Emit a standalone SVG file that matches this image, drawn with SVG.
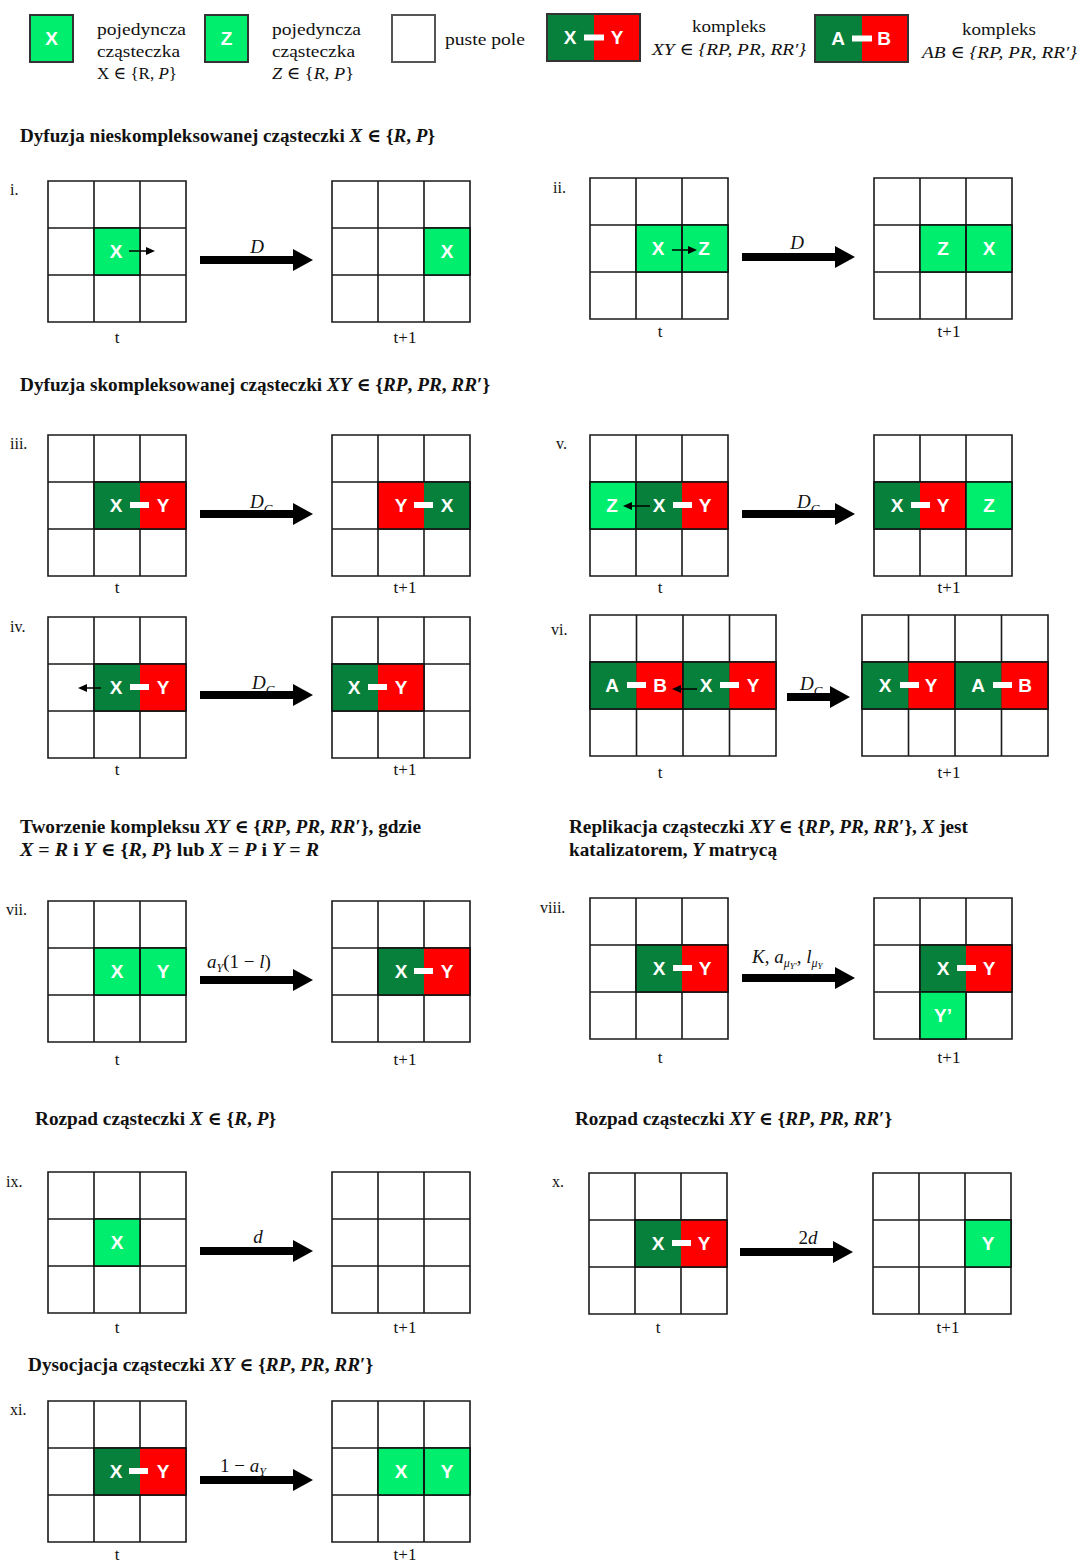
<svg xmlns="http://www.w3.org/2000/svg" xmlns:xlink="http://www.w3.org/1999/xlink" width="1081" height="1562" viewBox="0 0 1081 1562">
<style>
.t{font-family:"Liberation Serif","DejaVu Serif",serif;fill:#111}
.h{font-weight:bold;font-size:18.5px}
.lt{font-size:17.5px}
.i{font-style:italic}
.rn{font-size:16px}
.tl{font-size:17px;text-anchor:middle}
.al{font-size:19px}
.c{font-family:"Liberation Sans",Arial,sans-serif;font-weight:bold;font-size:19px;fill:#fff;text-anchor:middle}
.gl{fill:none;stroke:#1a1a1a;stroke-width:1.6}
.lg{fill:#00EE6E}
.dg{fill:#06803A}
.rd{fill:#FF0000}
.ol{fill:none;stroke:#111;stroke-width:1.6}
.bar{fill:#fff}
.big{stroke:#000;stroke-width:8;marker-end:url(#ah)}
.sm{stroke:#000;stroke-width:1.5;marker-end:url(#sah)}
.lb{stroke:#333;stroke-width:2}
</style>
<defs>
<marker id="ah" viewBox="0 0 20 22" refX="0" refY="11" markerWidth="20" markerHeight="22" markerUnits="userSpaceOnUse" orient="auto"><path d="M0,0L20,11L0,22Z" fill="#000"/></marker>
<marker id="sah" viewBox="0 0 9 8" refX="0" refY="4" markerWidth="9" markerHeight="8" markerUnits="userSpaceOnUse" orient="auto"><path d="M0,0L9,4L0,8Z" fill="#000"/></marker>
<path id="g3" class="gl" d="M0,0H138V141H0Z M46,0V141 M92,0V141 M0,47H138 M0,94H138"/>
<path id="g4" class="gl" d="M0,0H186V141H0Z M46.5,0V141 M93,0V141 M139.5,0V141 M0,47H186 M0,94H186"/>
</defs>
<rect width="1081" height="1562" fill="#fff"/>

<g id="legend">
 <g id="legend-x"><rect x="30" y="15" width="43" height="47" class="lg lb"/><text x="51.5" y="45" class="c">X</text>
  <text class="t lt" x="97" y="35" textLength="89" lengthAdjust="spacingAndGlyphs">pojedyncza</text>
  <text class="t lt" x="97" y="57" textLength="83" lengthAdjust="spacingAndGlyphs">cząsteczka</text>
  <text class="t lt" x="97" y="79" textLength="80" lengthAdjust="spacingAndGlyphs">X ∈ {R, <tspan class="i">P</tspan>}</text></g>
 <g id="legend-z"><rect x="205" y="15" width="43" height="47" class="lg lb"/><text x="226.5" y="45" class="c">Z</text>
  <text class="t lt" x="272" y="35" textLength="89" lengthAdjust="spacingAndGlyphs">pojedyncza</text>
  <text class="t lt" x="272" y="57" textLength="83" lengthAdjust="spacingAndGlyphs">cząsteczka</text>
  <text class="t lt" x="272" y="79" textLength="82" lengthAdjust="spacingAndGlyphs"><tspan class="i">Z</tspan> ∈ {<tspan class="i">R</tspan>, <tspan class="i">P</tspan>}</text></g>
 <g id="legend-empty"><rect x="392" y="15" width="43" height="47" fill="#fff" stroke="#555" stroke-width="2"/>
  <text class="t lt" x="445" y="45" textLength="80" lengthAdjust="spacingAndGlyphs">puste pole</text></g>
 <g id="legend-xy"><rect x="547" y="14" width="47" height="47" class="dg"/><rect x="594" y="14" width="46" height="47" class="rd"/><rect x="547" y="14" width="93" height="47" fill="none" class="lb"/>
  <rect x="584" y="34.5" width="20" height="6" class="bar"/><text x="570" y="44" class="c">X</text><text x="617" y="44" class="c">Y</text>
  <text class="t lt" x="729" y="32" text-anchor="middle" textLength="74" lengthAdjust="spacingAndGlyphs">kompleks</text>
  <text class="t lt i" x="652" y="55" textLength="154" lengthAdjust="spacingAndGlyphs">XY ∈ {RP, PR, RR′}</text></g>
 <g id="legend-ab"><rect x="815" y="15" width="47" height="47" class="dg"/><rect x="862" y="15" width="46" height="47" class="rd"/><rect x="815" y="15" width="93" height="47" fill="none" class="lb"/>
  <rect x="852" y="35.5" width="20" height="6" class="bar"/><text x="838" y="45" class="c">A</text><text x="884" y="45" class="c">B</text>
  <text class="t lt" x="999" y="35" text-anchor="middle" textLength="74" lengthAdjust="spacingAndGlyphs">kompleks</text>
  <text class="t lt i" x="922" y="58" textLength="155" lengthAdjust="spacingAndGlyphs">AB ∈ {RP, PR, RR′}</text></g>
</g>

<g id="headings">
 <text class="t h" x="20" y="142" textLength="415" lengthAdjust="spacingAndGlyphs">Dyfuzja nieskompleksowanej cząsteczki <tspan class="i">X</tspan> ∈ {<tspan class="i">R</tspan>, <tspan class="i">P</tspan>}</text>
 <text class="t h" x="20" y="391" textLength="470" lengthAdjust="spacingAndGlyphs">Dyfuzja skompleksowanej cząsteczki <tspan class="i">XY</tspan> ∈ {<tspan class="i">RP</tspan>, <tspan class="i">PR</tspan>, <tspan class="i">RR</tspan>′}</text>
 <text class="t h" x="20" y="833" textLength="401" lengthAdjust="spacingAndGlyphs">Tworzenie kompleksu <tspan class="i">XY</tspan> ∈ {<tspan class="i">RP</tspan>, <tspan class="i">PR</tspan>, <tspan class="i">RR</tspan>′}, gdzie</text>
 <text class="t h" x="20" y="856" textLength="299" lengthAdjust="spacingAndGlyphs"><tspan class="i">X</tspan> = <tspan class="i">R</tspan> i <tspan class="i">Y</tspan> ∈ {<tspan class="i">R</tspan>, <tspan class="i">P</tspan>} lub <tspan class="i">X</tspan> = <tspan class="i">P</tspan> i <tspan class="i">Y</tspan> = <tspan class="i">R</tspan></text>
 <text class="t h" x="569" y="833" textLength="399" lengthAdjust="spacingAndGlyphs">Replikacja cząsteczki <tspan class="i">XY</tspan> ∈ {<tspan class="i">RP</tspan>, <tspan class="i">PR</tspan>, <tspan class="i">RR</tspan>′}, <tspan class="i">X</tspan> jest</text>
 <text class="t h" x="569" y="856" textLength="208" lengthAdjust="spacingAndGlyphs">katalizatorem, <tspan class="i">Y</tspan> matrycą</text>
 <text class="t h" x="35" y="1125" textLength="241" lengthAdjust="spacingAndGlyphs">Rozpad cząsteczki <tspan class="i">X</tspan> ∈ {<tspan class="i">R</tspan>, <tspan class="i">P</tspan>}</text>
 <text class="t h" x="575" y="1125" textLength="317" lengthAdjust="spacingAndGlyphs">Rozpad cząsteczki <tspan class="i">XY</tspan> ∈ {<tspan class="i">RP</tspan>, <tspan class="i">PR</tspan>, <tspan class="i">RR</tspan>′}</text>
 <text class="t h" x="28" y="1371" textLength="345" lengthAdjust="spacingAndGlyphs">Dysocjacja cząsteczki <tspan class="i">XY</tspan> ∈ {<tspan class="i">RP</tspan>, <tspan class="i">PR</tspan>, <tspan class="i">RR</tspan>′}</text>
</g>

<g id="panel-i">
 <text class="t rn" x="10" y="195">i.</text>
 <use href="#g3" x="48" y="181"/>
 <rect x="94" y="228" width="46" height="47" class="lg"/><rect x="94" y="228" width="46" height="47" class="ol"/><text x="116" y="258" class="c">X</text>
 <use href="#g3" x="332" y="181"/>
 <rect x="424" y="228" width="46" height="47" class="lg"/><rect x="424" y="228" width="46" height="47" class="ol"/><text x="447" y="258" class="c">X</text>
 <text class="t al i" x="257" y="253" text-anchor="middle">D</text>
 <text class="t tl" x="117" y="343">t</text><text class="t tl" x="405" y="343">t+1</text>
</g>

<g id="panel-ii">
 <text class="t rn" x="553" y="193">ii.</text>
 <use href="#g3" x="590" y="178"/>
 <rect x="636" y="225" width="46" height="47" class="lg"/><rect x="682" y="225" width="46" height="47" class="lg"/>
 <rect x="636" y="225" width="46" height="47" class="ol"/><rect x="682" y="225" width="46" height="47" class="ol"/>
 <text x="658" y="255" class="c">X</text><text x="704" y="255" class="c">Z</text>
 <use href="#g3" x="874" y="178"/>
 <rect x="920" y="225" width="46" height="47" class="lg"/><rect x="966" y="225" width="46" height="47" class="lg"/>
 <rect x="920" y="225" width="46" height="47" class="ol"/><rect x="966" y="225" width="46" height="47" class="ol"/>
 <text x="943" y="255" class="c">Z</text><text x="989" y="255" class="c">X</text>
 <text class="t al i" x="797" y="249" text-anchor="middle">D</text>
 <text class="t tl" x="660" y="337">t</text><text class="t tl" x="949" y="337">t+1</text>
</g>

<g id="panel-iii">
 <text class="t rn" x="10" y="449">iii.</text>
 <use href="#g3" x="48" y="435"/>
 <rect x="94" y="482" width="46" height="47" class="dg"/><rect x="140" y="482" width="46" height="47" class="rd"/><rect x="94" y="482" width="92" height="47" class="ol"/>
 <rect x="130" y="502" width="19" height="6" class="bar"/><text x="116" y="512" class="c">X</text><text x="163" y="512" class="c">Y</text>
 <use href="#g3" x="332" y="435"/>
 <rect x="378" y="482" width="46" height="47" class="rd"/><rect x="424" y="482" width="46" height="47" class="dg"/><rect x="378" y="482" width="92" height="47" class="ol"/>
 <rect x="414" y="502" width="19" height="6" class="bar"/><text x="401" y="512" class="c">Y</text><text x="447" y="512" class="c">X</text>
 <text class="t al" x="250" y="508"><tspan class="i">D</tspan><tspan class="i" font-size="13" dy="5">C</tspan></text>
 <text class="t tl" x="117" y="593">t</text><text class="t tl" x="405" y="593">t+1</text>
</g>

<g id="panel-v">
 <text class="t rn" x="556" y="449">v.</text>
 <use href="#g3" x="590" y="435"/>
 <rect x="590" y="482" width="46" height="47" class="lg"/><rect x="590" y="482" width="46" height="47" class="ol"/>
 <rect x="636" y="482" width="46" height="47" class="dg"/><rect x="682" y="482" width="46" height="47" class="rd"/><rect x="636" y="482" width="92" height="47" class="ol"/>
 <rect x="673" y="502" width="19" height="6" class="bar"/><text x="612" y="512" class="c">Z</text><text x="659" y="512" class="c">X</text><text x="705" y="512" class="c">Y</text>
 <use href="#g3" x="874" y="435"/>
 <rect x="874" y="482" width="46" height="47" class="dg"/><rect x="920" y="482" width="46" height="47" class="rd"/><rect x="874" y="482" width="92" height="47" class="ol"/>
 <rect x="966" y="482" width="46" height="47" class="lg"/><rect x="966" y="482" width="46" height="47" class="ol"/>
 <rect x="911" y="502" width="19" height="6" class="bar"/><text x="897" y="512" class="c">X</text><text x="943" y="512" class="c">Y</text><text x="989" y="512" class="c">Z</text>
 <text class="t al" x="797" y="508"><tspan class="i">D</tspan><tspan class="i" font-size="13" dy="5">C</tspan></text>
 <text class="t tl" x="660" y="593">t</text><text class="t tl" x="949" y="593">t+1</text>
</g>

<g id="panel-iv">
 <text class="t rn" x="10" y="632">iv.</text>
 <use href="#g3" x="48" y="617"/>
 <rect x="94" y="664" width="46" height="47" class="dg"/><rect x="140" y="664" width="46" height="47" class="rd"/><rect x="94" y="664" width="92" height="47" class="ol"/>
 <rect x="130" y="684" width="19" height="6" class="bar"/><text x="116" y="694" class="c">X</text><text x="163" y="694" class="c">Y</text>
 <use href="#g3" x="332" y="617"/>
 <rect x="332" y="664" width="46" height="47" class="dg"/><rect x="378" y="664" width="46" height="47" class="rd"/><rect x="332" y="664" width="92" height="47" class="ol"/>
 <rect x="368" y="684" width="19" height="6" class="bar"/><text x="354" y="694" class="c">X</text><text x="401" y="694" class="c">Y</text>
 <text class="t al" x="252" y="689"><tspan class="i">D</tspan><tspan class="i" font-size="13" dy="5">C</tspan></text>
 <text class="t tl" x="117" y="775">t</text><text class="t tl" x="405" y="775">t+1</text>
</g>

<g id="panel-vi">
 <text class="t rn" x="551" y="635">vi.</text>
 <use href="#g4" x="590" y="615"/>
 <rect x="590" y="662" width="46.5" height="47" class="dg"/><rect x="636.5" y="662" width="46.5" height="47" class="rd"/><rect x="590" y="662" width="93" height="47" class="ol"/>
 <rect x="683" y="662" width="46.5" height="47" class="dg"/><rect x="729.5" y="662" width="46.5" height="47" class="rd"/><rect x="683" y="662" width="93" height="47" class="ol"/>
 <rect x="627" y="682" width="19" height="6" class="bar"/><rect x="720" y="682" width="19" height="6" class="bar"/>
 <text x="612" y="692" class="c">A</text><text x="660" y="692" class="c">B</text><text x="706" y="692" class="c">X</text><text x="753" y="692" class="c">Y</text>
 <use href="#g4" x="862" y="615"/>
 <rect x="862" y="662" width="46.5" height="47" class="dg"/><rect x="908.5" y="662" width="46.5" height="47" class="rd"/><rect x="862" y="662" width="93" height="47" class="ol"/>
 <rect x="955" y="662" width="46.5" height="47" class="dg"/><rect x="1001.5" y="662" width="46.5" height="47" class="rd"/><rect x="955" y="662" width="93" height="47" class="ol"/>
 <rect x="900" y="682" width="19" height="6" class="bar"/><rect x="993" y="682" width="19" height="6" class="bar"/>
 <text x="885" y="692" class="c">X</text><text x="931" y="692" class="c">Y</text><text x="978" y="692" class="c">A</text><text x="1025" y="692" class="c">B</text>
 <text class="t al" x="800" y="690"><tspan class="i">D</tspan><tspan class="i" font-size="13" dy="5">C</tspan></text>
 <text class="t tl" x="660" y="778">t</text><text class="t tl" x="949" y="778">t+1</text>
</g>

<g id="panel-vii">
 <text class="t rn" x="6" y="915">vii.</text>
 <use href="#g3" x="48" y="901"/>
 <rect x="94" y="948" width="46" height="47" class="lg"/><rect x="140" y="948" width="46" height="47" class="lg"/>
 <rect x="94" y="948" width="46" height="47" class="ol"/><rect x="140" y="948" width="46" height="47" class="ol"/>
 <text x="117" y="978" class="c">X</text><text x="163" y="978" class="c">Y</text>
 <use href="#g3" x="332" y="901"/>
 <rect x="378" y="948" width="46" height="47" class="dg"/><rect x="424" y="948" width="46" height="47" class="rd"/><rect x="378" y="948" width="92" height="47" class="ol"/>
 <rect x="414" y="968" width="19" height="6" class="bar"/><text x="401" y="978" class="c">X</text><text x="447" y="978" class="c">Y</text>
 <text class="t al" x="207" y="968"><tspan class="i">a</tspan><tspan class="i" font-size="12" dy="4">Y</tspan><tspan dy="-4">(1 − </tspan><tspan class="i">l</tspan>)</text>
 <text class="t tl" x="117" y="1065">t</text><text class="t tl" x="405" y="1065">t+1</text>
</g>

<g id="panel-viii">
 <text class="t rn" x="540" y="913">viii.</text>
 <use href="#g3" x="590" y="898"/>
 <rect x="636" y="945" width="46" height="47" class="dg"/><rect x="682" y="945" width="46" height="47" class="rd"/><rect x="636" y="945" width="92" height="47" class="ol"/>
 <rect x="673" y="965" width="19" height="6" class="bar"/><text x="659" y="975" class="c">X</text><text x="705" y="975" class="c">Y</text>
 <use href="#g3" x="874" y="898"/>
 <rect x="920" y="945" width="46" height="47" class="dg"/><rect x="966" y="945" width="46" height="47" class="rd"/><rect x="920" y="945" width="92" height="47" class="ol"/>
 <rect x="957" y="965" width="19" height="6" class="bar"/><text x="943" y="975" class="c">X</text><text x="989" y="975" class="c">Y</text>
 <rect x="920" y="992" width="46" height="47" class="lg"/><rect x="920" y="992" width="46" height="47" class="ol"/><text x="943" y="1022" class="c">Y’</text>
 <text class="t al" x="752" y="963"><tspan class="i">K</tspan>, <tspan class="i">a</tspan><tspan class="i" font-size="12" dy="4">μ</tspan><tspan class="i" font-size="9" dy="2">Y′</tspan><tspan dy="-6">, </tspan><tspan class="i">l</tspan><tspan class="i" font-size="12" dy="4">μ</tspan><tspan class="i" font-size="9" dy="2">Y</tspan></text>
 <text class="t tl" x="660" y="1063">t</text><text class="t tl" x="949" y="1063">t+1</text>
</g>

<g id="panel-ix">
 <text class="t rn" x="6" y="1187">ix.</text>
 <use href="#g3" x="48" y="1172"/>
 <rect x="94" y="1219" width="46" height="47" class="lg"/><rect x="94" y="1219" width="46" height="47" class="ol"/><text x="117" y="1249" class="c">X</text>
 <use href="#g3" x="332" y="1172"/>
 <text class="t al i" x="258" y="1243" text-anchor="middle">d</text>
 <text class="t tl" x="117" y="1333">t</text><text class="t tl" x="405" y="1333">t+1</text>
</g>

<g id="panel-x">
 <text class="t rn" x="552" y="1187">x.</text>
 <use href="#g3" x="589" y="1173"/>
 <rect x="635" y="1220" width="46" height="47" class="dg"/><rect x="681" y="1220" width="46" height="47" class="rd"/><rect x="635" y="1220" width="92" height="47" class="ol"/>
 <rect x="672" y="1240" width="19" height="6" class="bar"/><text x="658" y="1250" class="c">X</text><text x="704" y="1250" class="c">Y</text>
 <use href="#g3" x="873" y="1173"/>
 <rect x="965" y="1220" width="46" height="47" class="lg"/><rect x="965" y="1220" width="46" height="47" class="ol"/><text x="988" y="1250" class="c">Y</text>
 <text class="t al" x="808" y="1244" text-anchor="middle">2<tspan class="i">d</tspan></text>
 <text class="t tl" x="658" y="1333">t</text><text class="t tl" x="948" y="1333">t+1</text>
</g>

<g id="panel-xi">
 <text class="t rn" x="10" y="1415">xi.</text>
 <use href="#g3" x="48" y="1401"/>
 <rect x="94" y="1448" width="46" height="47" class="dg"/><rect x="140" y="1448" width="46" height="47" class="rd"/><rect x="94" y="1448" width="92" height="47" class="ol"/>
 <rect x="129" y="1468" width="19" height="6" class="bar"/><text x="116" y="1478" class="c">X</text><text x="163" y="1478" class="c">Y</text>
 <use href="#g3" x="332" y="1401"/>
 <rect x="378" y="1448" width="46" height="47" class="lg"/><rect x="424" y="1448" width="46" height="47" class="lg"/>
 <rect x="378" y="1448" width="46" height="47" class="ol"/><rect x="424" y="1448" width="46" height="47" class="ol"/>
 <text x="401" y="1478" class="c">X</text><text x="447" y="1478" class="c">Y</text>
 <text class="t al" x="220" y="1472">1 − <tspan class="i">a</tspan><tspan class="i" font-size="12" dy="4">Y</tspan></text>
 <text class="t tl" x="117" y="1560">t</text><text class="t tl" x="405" y="1560">t+1</text>
</g>

<g id="connectors">
 <line class="big" x1="200" y1="260" x2="293" y2="260"/>
 <line class="big" x1="742" y1="257" x2="835" y2="257"/>
 <line class="big" x1="200" y1="514" x2="293" y2="514"/>
 <line class="big" x1="742" y1="514" x2="835" y2="514"/>
 <line class="big" x1="200" y1="695" x2="293" y2="695"/>
 <line class="big" x1="787" y1="697" x2="830" y2="697"/>
 <line class="big" x1="200" y1="980" x2="293" y2="980"/>
 <line class="big" x1="742" y1="978" x2="835" y2="978"/>
 <line class="big" x1="200" y1="1251" x2="293" y2="1251"/>
 <line class="big" x1="740" y1="1252" x2="833" y2="1252"/>
 <line class="big" x1="200" y1="1480" x2="293" y2="1480"/>
 <line class="sm" x1="129" y1="251" x2="146" y2="251"/>
 <line class="sm" x1="672" y1="250" x2="688" y2="250"/>
 <line class="sm" x1="650" y1="506" x2="632" y2="506"/>
 <line class="sm" x1="101" y1="688" x2="87" y2="688"/>
 <line class="sm" x1="697" y1="689" x2="681" y2="689"/>
</g>
</svg>
